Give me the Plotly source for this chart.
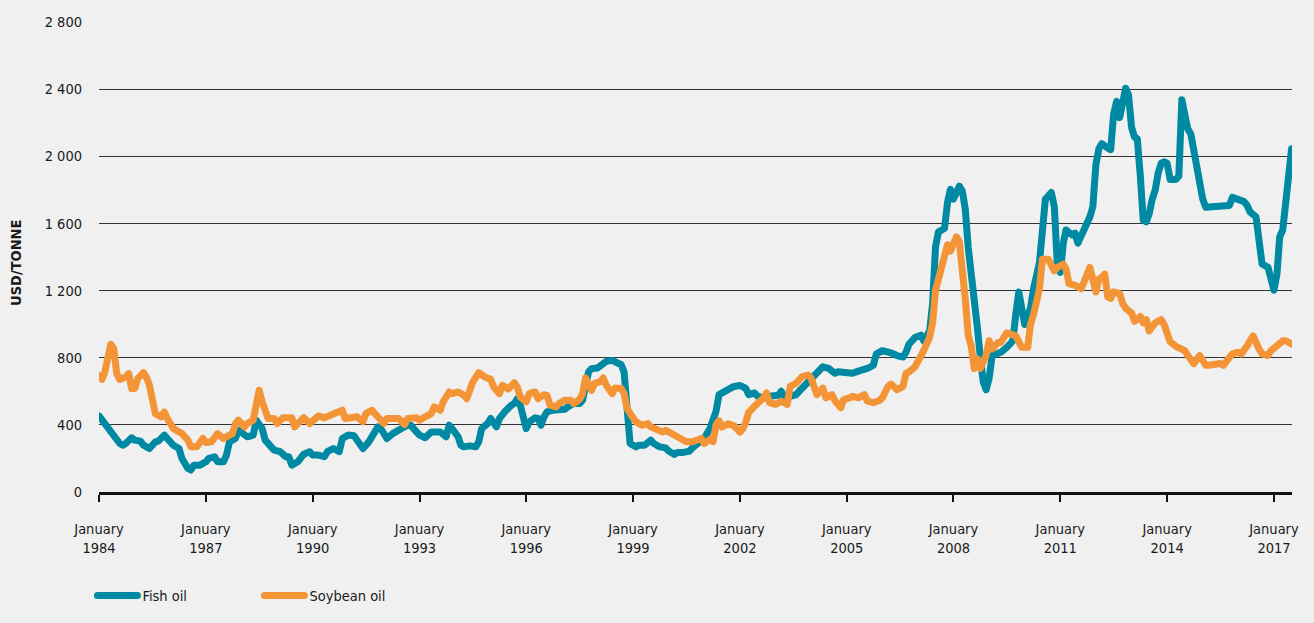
import plotly.graph_objects as go

# Monthly prices, USD per tonne
fish_dates = [
    "1984-01", "1984-02", "1984-04", "1984-06", "1984-08", "1984-09", "1984-10", "1984-12",
    "1985-01", "1985-03", "1985-04", "1985-06", "1985-08", "1985-09", "1985-11", "1985-12",
    "1986-02", "1986-04", "1986-05", "1986-07", "1986-08", "1986-09", "1986-11",
    "1987-01", "1987-02", "1987-04", "1987-05", "1987-07", "1987-08", "1987-09", "1987-11", "1987-12",
    "1988-02", "1988-03", "1988-05", "1988-06", "1988-08", "1988-09", "1988-11", "1988-12",
    "1989-02", "1989-04", "1989-05", "1989-06", "1989-08", "1989-09", "1989-10", "1989-12",
    "1990-01", "1990-03", "1990-05", "1990-06", "1990-08", "1990-10", "1990-11",
    "1991-01", "1991-03", "1991-04", "1991-06", "1991-08", "1991-09", "1991-11", "1991-12",
    "1992-02", "1992-04", "1992-05", "1992-07", "1992-09", "1992-10", "1992-12",
    "1993-01", "1993-03", "1993-05", "1993-06", "1993-08", "1993-10", "1993-11", "1993-12",
    "1994-02", "1994-03", "1994-04", "1994-06", "1994-08", "1994-09", "1994-10", "1994-12",
    "1995-01", "1995-03", "1995-04", "1995-06", "1995-07", "1995-08", "1995-09", "1995-10", "1995-11", "1995-12",
    "1996-01", "1996-02", "1996-04", "1996-05", "1996-06", "1996-07", "1996-08", "1996-10", "1996-12",
    "1997-02", "1997-03", "1997-05", "1997-07", "1997-08", "1997-10", "1997-11",
    "1998-01", "1998-02", "1998-04", "1998-06", "1998-07", "1998-09", "1998-10", "1998-11", "1998-12",
    "1999-02", "1999-03", "1999-05", "1999-07", "1999-08", "1999-10", "1999-12",
    "2000-01", "2000-03", "2000-04", "2000-06", "2000-08", "2000-09", "2000-11",
    "2001-01", "2001-03", "2001-05", "2001-06", "2001-08", "2001-10", "2001-11",
    "2002-01", "2002-03", "2002-04", "2002-06", "2002-07", "2002-09", "2002-11", "2002-12",
    "2003-02", "2003-03", "2003-04", "2003-06", "2003-08", "2003-09", "2003-11",
    "2004-01", "2004-02", "2004-04", "2004-05", "2004-07", "2004-09", "2004-10", "2004-12",
    "2005-02", "2005-03", "2005-05", "2005-07", "2005-08", "2005-10", "2005-11",
    "2006-01", "2006-03", "2006-04", "2006-06", "2006-08", "2006-09", "2006-10", "2006-12",
    "2007-02", "2007-03", "2007-05", "2007-06", "2007-07", "2007-08", "2007-10", "2007-11", "2007-12",
    "2008-01", "2008-02", "2008-03", "2008-04", "2008-05", "2008-06", "2008-07", "2008-08", "2008-09",
    "2008-10", "2008-11", "2008-12",
    "2009-01", "2009-02", "2009-04", "2009-05", "2009-07", "2009-08", "2009-09", "2009-10", "2009-11", "2009-12",
    "2010-01", "2010-03", "2010-04", "2010-06", "2010-07", "2010-08", "2010-10", "2010-11", "2010-12",
    "2011-01", "2011-02", "2011-03", "2011-05", "2011-06", "2011-07", "2011-09", "2011-10", "2011-11", "2011-12",
    "2012-01", "2012-02", "2012-03", "2012-05", "2012-06", "2012-07", "2012-08", "2012-09", "2012-10",
    "2012-11", "2012-12",
    "2013-01", "2013-02", "2013-03", "2013-04", "2013-05", "2013-06", "2013-07", "2013-08", "2013-09",
    "2013-10", "2013-11", "2013-12",
    "2014-01", "2014-02", "2014-04", "2014-05", "2014-06", "2014-07", "2014-08", "2014-09", "2014-10",
    "2014-11", "2014-12",
    "2015-01", "2015-02", "2015-04", "2015-07", "2015-10", "2015-11",
    "2016-01", "2016-03", "2016-04", "2016-05", "2016-07", "2016-08", "2016-09", "2016-11", "2016-12",
    "2017-01", "2017-02", "2017-03", "2017-04", "2017-05", "2017-06", "2017-07",
]
fish_usd = [
    453, 428, 388, 339, 289, 279, 289, 323,
    309, 303, 279, 259, 299, 303, 339, 319,
    279, 259, 200, 141, 131, 160, 160,
    180, 200, 210, 180, 180, 220, 299, 319, 368,
    339, 329, 339, 428, 378, 309, 269, 250,
    240, 210, 210, 160, 180, 205, 225, 240,
    220, 220, 210, 240, 259, 240, 319,
    339, 335, 309, 259, 299, 329, 388, 378,
    319, 348, 362, 378, 398, 398, 358,
    339, 323, 358, 358, 358, 329, 398, 378,
    329, 279, 269, 275, 269, 299, 378, 408,
    438, 388, 438, 482, 507, 517, 527, 556, 517, 428,
    378, 418, 442, 438, 398, 448, 477, 487, 493,
    493, 507, 527, 527, 547, 715, 735,
    739, 754, 778, 784, 774, 758, 715, 450, 289,
    269, 279, 279, 309, 289, 269, 263,
    244, 224, 236, 236, 244, 263, 290,
    320, 380, 480, 580, 603, 619, 629,
    634, 619, 580, 590, 570, 561, 570, 570,
    576, 600, 570, 570, 580, 600, 638,
    678, 697, 726, 746, 736, 707, 716, 716,
    707, 707, 720, 726, 736, 755, 823,
    842, 836, 829, 813, 804, 833, 880, 920,
    934, 901, 959, 1124, 1463, 1550, 1570, 1725, 1803,
    1745, 1799, 1822, 1793, 1687, 1453, 1308, 1220, 987,
    813, 658, 609,
    677, 813, 823, 832, 862, 891, 901, 1056, 1192, 1095,
    998, 1095, 1211, 1366, 1580, 1745, 1784, 1697, 1357,
    1308, 1483, 1561, 1532, 1542, 1483, 1551, 1600, 1640, 1700,
    1950, 2045, 2075, 2050, 2040, 2250, 2327, 2230, 2308,
    2405, 2366,
    2172, 2114, 2104, 1881, 1619, 1610, 1658, 1745, 1800,
    1900, 1958, 1968,
    1958, 1862, 1862, 1881, 2337, 2250, 2163, 2133, 2036,
    1929, 1860,
    1745, 1697, 1697, 1697, 1707, 1755,
    1745, 1730, 1707, 1668, 1639, 1513, 1358, 1338, 1270,
    1202, 1300, 1520, 1561, 1707, 1880, 2045,
]

soy_dates = [
    "1984-01", "1984-02", "1984-03", "1984-05", "1984-06", "1984-07", "1984-08", "1984-10", "1984-11", "1984-12",
    "1985-01", "1985-02", "1985-04", "1985-05", "1985-06", "1985-07", "1985-08", "1985-10", "1985-11", "1985-12",
    "1986-02", "1986-04", "1986-05", "1986-07", "1986-08", "1986-10", "1986-11", "1986-12",
    "1987-01", "1987-03", "1987-05", "1987-06", "1987-07", "1987-09", "1987-10", "1987-11", "1987-12",
    "1988-02", "1988-03", "1988-05", "1988-06", "1988-07", "1988-08", "1988-09", "1988-10", "1988-12",
    "1989-01", "1989-03", "1989-04", "1989-06", "1989-07", "1989-09", "1989-10", "1989-12",
    "1990-02", "1990-03", "1990-05", "1990-07", "1990-09", "1990-11", "1990-12",
    "1991-03", "1991-04", "1991-06", "1991-07", "1991-09", "1991-11",
    "1992-01", "1992-02", "1992-04", "1992-06", "1992-08", "1992-09", "1992-12",
    "1993-01", "1993-03", "1993-05", "1993-06", "1993-08", "1993-09", "1993-11", "1993-12",
    "1994-02", "1994-04", "1994-05", "1994-07", "1994-08", "1994-09", "1994-11",
    "1995-01", "1995-02", "1995-04", "1995-05", "1995-07", "1995-09", "1995-10", "1995-11",
    "1996-01", "1996-02", "1996-04", "1996-05", "1996-07", "1996-08", "1996-09", "1996-11", "1996-12",
    "1997-02", "1997-04", "1997-05", "1997-07", "1997-08", "1997-09", "1997-11", "1997-12",
    "1998-02", "1998-03", "1998-04", "1998-06", "1998-07", "1998-09", "1998-10", "1998-11",
    "1999-01", "1999-02", "1999-04", "1999-06", "1999-07", "1999-09", "1999-11", "1999-12",
    "2000-02", "2000-04", "2000-05", "2000-07", "2000-09", "2000-10", "2000-12",
    "2001-01", "2001-03", "2001-04", "2001-05", "2001-06", "2001-07", "2001-09", "2001-11",
    "2002-01", "2002-02", "2002-03", "2002-04", "2002-06", "2002-08", "2002-09", "2002-10", "2002-11",
    "2003-01", "2003-03", "2003-04", "2003-05", "2003-06", "2003-08", "2003-10", "2003-12",
    "2004-01", "2004-02", "2004-03", "2004-05", "2004-06", "2004-08", "2004-09", "2004-11", "2004-12",
    "2005-02", "2005-03", "2005-05", "2005-07", "2005-08", "2005-10", "2005-12",
    "2006-01", "2006-03", "2006-04", "2006-06", "2006-08", "2006-09", "2006-10", "2006-12",
    "2007-01", "2007-02", "2007-03", "2007-05", "2007-06", "2007-07", "2007-09", "2007-11", "2007-12",
    "2008-01", "2008-02", "2008-03", "2008-04", "2008-05", "2008-06", "2008-07", "2008-08", "2008-09",
    "2008-10", "2008-12",
    "2009-01", "2009-02", "2009-04", "2009-05", "2009-07", "2009-09", "2009-10", "2009-12",
    "2010-02", "2010-03", "2010-04", "2010-06", "2010-07", "2010-09", "2010-11", "2010-12",
    "2011-02", "2011-03", "2011-04", "2011-06", "2011-08", "2011-09", "2011-11",
    "2012-01", "2012-02", "2012-03", "2012-04", "2012-05", "2012-06", "2012-07", "2012-09", "2012-10", "2012-11",
    "2013-01", "2013-02", "2013-04", "2013-05", "2013-06", "2013-07", "2013-09", "2013-11", "2013-12",
    "2014-01", "2014-02", "2014-04", "2014-05", "2014-07", "2014-08", "2014-10", "2014-12",
    "2015-01", "2015-02", "2015-03", "2015-05", "2015-07", "2015-08", "2015-10", "2015-11",
    "2016-01", "2016-02", "2016-04", "2016-06", "2016-08", "2016-09", "2016-11", "2016-12",
    "2017-02", "2017-04", "2017-05", "2017-06", "2017-07",
]
soy_usd = [
    695, 671, 715, 880, 853, 705, 671, 685, 705, 616,
    616, 675, 711, 685, 636, 556, 467, 448, 477, 438,
    378, 358, 348, 309, 269, 269, 299, 319,
    295, 299, 348, 339, 319, 339, 348, 408, 428,
    388, 408, 428, 517, 606, 537, 467, 438, 438,
    408, 442, 442, 442, 388, 418, 443, 408,
    438, 453, 442, 457, 467, 487, 438,
    453, 448, 418, 467, 487, 448,
    408, 438, 442, 438, 402, 438, 442,
    428, 448, 467, 507, 487, 537, 596, 586,
    596, 576, 556, 655, 679, 711, 685,
    671, 626, 586, 636, 614, 651, 626, 566,
    537, 586, 596, 556, 580, 576, 517, 507, 527,
    547, 547, 527, 552, 586, 679, 606, 646,
    659, 679, 636, 586, 620, 616, 586, 497,
    442, 418, 398, 408, 388, 368, 358, 368,
    348, 329, 329, 299, 299, 303, 319,
    289, 314, 300, 400, 425, 387, 406, 396,
    357, 377, 415, 473, 512, 541, 561, 590, 532,
    522, 541, 532, 522, 629, 648, 687, 697,
    678, 619, 580, 619, 561, 580, 545, 502, 551,
    561, 570, 561, 580, 541, 532, 545,
    561, 629, 643, 609, 629, 707, 715, 745,
    790, 810, 842, 920, 1008, 1202, 1338, 1473, 1435,
    1493, 1520, 1493, 1338, 1150, 930, 871, 736, 794,
    736, 813,
    901, 852, 891, 891, 949, 930, 930, 862,
    862, 998, 1056, 1211, 1386, 1386, 1318, 1338,
    1357, 1328, 1241, 1231, 1211, 1250, 1338,
    1192, 1270, 1278, 1298, 1162, 1153, 1192, 1182, 1124, 1095,
    1066, 1017, 1046, 1008, 1027, 959, 1008, 1027, 998,
    940, 895, 868, 862, 842, 813, 765, 813,
    784, 755, 755, 759, 765, 755, 804, 823,
    833, 823, 871, 930, 852, 823, 813, 842,
    871, 901, 901, 891, 882,
]

year_ticks = ["1984-01-01", "1987-01-01", "1990-01-01", "1993-01-01", "1996-01-01", "1999-01-01",
              "2002-01-01", "2005-01-01", "2008-01-01", "2011-01-01", "2014-01-01", "2017-01-01"]
year_labels = ["January<br>1984", "January<br>1987", "January<br>1990", "January<br>1993",
               "January<br>1996", "January<br>1999", "January<br>2002", "January<br>2005",
               "January<br>2008", "January<br>2011", "January<br>2014", "January<br>2017"]
usd_ticks = [0, 400, 800, 1200, 1600, 2000, 2400, 2800]
usd_labels = ["0", "400", "800", "1 200", "1 600", "2 000", "2 400", "2 800"]

FONT = "DejaVu Sans Condensed, Liberation Sans Narrow, sans-serif"
TEAL = "#0089a3"
ORANGE = "#f39537"
BG = "#f0f0f0"
INK = "#1a1a1a"

fig = go.Figure()
fig.add_trace(go.Scatter(x=fish_dates, y=fish_usd, mode="lines", name="Fish oil",
                         line=dict(color=TEAL, width=7), hoverinfo="x+y"))
fig.add_trace(go.Scatter(x=soy_dates, y=soy_usd, mode="lines", name="Soybean oil",
                         line=dict(color=ORANGE, width=7), hoverinfo="x+y"))

fig.update_layout(
    width=1314, height=623,
    margin=dict(l=99, r=22, t=22, b=120),
    paper_bgcolor=BG, plot_bgcolor=BG,
    font=dict(family=FONT, size=14.5, color=INK),
    showlegend=True,
    legend=dict(orientation="h", x=-0.0055, y=-0.2204, xanchor="left", yanchor="middle",
                bgcolor="rgba(0,0,0,0)", font=dict(size=14.5), itemwidth=40,
                entrywidth=112, entrywidthmode="pixels",
                itemclick=False, itemdoubleclick=False),
    xaxis=dict(
        type="date", range=["1984-01-01", "2017-07-05"],
        tickvals=year_ticks, ticktext=year_labels,
        ticks="outside", ticklen=7, tickwidth=1.5, tickcolor="#111",
        showline=True, linecolor="#111", linewidth=3,
        showgrid=False, zeroline=False, ticklabelstandoff=15,
        tickfont=dict(size=14.5),
    ),
    yaxis=dict(
        range=[0, 2800], tickvals=usd_ticks, ticktext=usd_labels,
        showgrid=True, gridcolor="#333333", gridwidth=1,
        zeroline=False, showline=False, ticks="", ticklabelstandoff=16,
        tickfont=dict(size=14.5),
    ),
    annotations=[dict(
        text="<b>USD/TONNE</b>", textangle=-90, showarrow=False,
        xref="paper", yref="paper", x=-(99 - 16) / 1193, y=0.4875,
        xanchor="center", yanchor="middle", font=dict(size=14.5, family=FONT),
    )],
)

# Round joins and caps on the thick price lines and legend swatches
round_js = """
var gd = document.getElementById('{plot_id}');
function roundLines() {
  gd.querySelectorAll('.scatterlayer .js-line, .legendlines path').forEach(function (p) {
    p.style.strokeLinejoin = 'round';
    p.style.strokeLinecap = 'round';
  });
}
roundLines();
if (gd.on) { gd.on('plotly_afterplot', roundLines); }
"""

fig.write_html("out.html", post_script=round_js)
